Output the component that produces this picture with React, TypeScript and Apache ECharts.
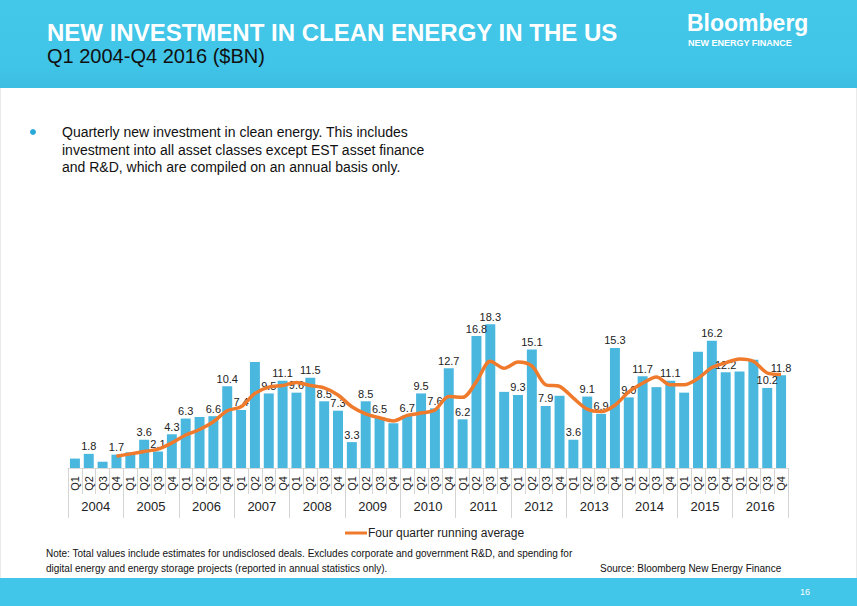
import React, { useEffect, useRef } from "react";
import * as echarts from "echarts";

const quarters: string[] = [];
const years = ["2004", "2005", "2006", "2007", "2008", "2009", "2010", "2011", "2012", "2013", "2014", "2015", "2016"];
const quarterNames = ["Q1", "Q2", "Q3", "Q4"];
years.forEach(() => quarterNames.forEach((q) => quarters.push(q)));

const investment = [
  1.2, 1.8, 0.8, 1.7,
  2.0, 3.6, 2.1, 4.3,
  6.3, 6.5, 6.6, 10.4,
  7.4, 13.5, 9.5, 11.1,
  9.6, 11.5, 8.5, 7.3,
  3.3, 8.5, 6.5, 5.7,
  6.7, 9.5, 7.6, 12.7,
  6.2, 16.8, 18.3, 9.7,
  9.3, 15.1, 7.9, 9.2,
  3.6, 9.1, 6.9, 15.3,
  9.0, 11.7, 10.3, 11.1,
  9.6, 14.8, 16.2, 12.2,
  12.3, 13.8, 10.2, 11.8,
];

const runningAverage = [
  null, null, null, 1.5,
  1.8, 2.1, 2.4, 3.2,
  4.2, 4.9, 5.9, 7.3,
  7.8, 9.5, 10.3, 10.5,
  10.9, 10.5, 10.2, 9.3,
  7.8, 6.9, 6.4, 6.0,
  6.7, 7.0, 7.4, 9.1,
  9.0, 11.0, 13.6, 12.7,
  13.5, 13.0, 10.6, 10.4,
  8.9, 7.5, 7.2, 8.0,
  9.7, 10.8, 11.6, 10.6,
  10.6, 11.4, 12.8, 13.4,
  13.9, 13.6, 12.1, 11.9,
];

const labelledBars = [
  1, 3, 5, 6, 7, 8, 10, 11, 12, 14, 15, 16, 17, 18, 19, 20, 21, 22, 24, 25, 26, 27,
  28, 29, 30, 32, 33, 34, 36, 37, 38, 39, 40, 41, 43, 46, 47, 50, 51,
];

const TITLE = "NEW INVESTMENT IN CLEAN ENERGY IN THE US";
const SUBTITLE = "Q1 2004-Q4 2016 ($BN)";
const BULLET_LINES = [
  "Quarterly new investment in clean energy. This includes",
  "investment into all asset classes except EST asset finance",
  "and R&D, which are compiled on an annual basis only.",
];
const NOTE_LINES = [
  "Note: Total values include estimates for undisclosed deals. Excludes corporate and government R&D, and spending for",
  "digital energy and energy storage projects (reported in annual statistics only).",
];
const SOURCE = "Source: Bloomberg New Energy Finance";
const LEGEND_NAME = "Four quarter running average";

const FONT = "'Liberation Sans', Arial, sans-serif";
const BAR_COLOR = "#4ab7df";
const LINE_COLOR = "#f07a2c";
const BANNER = "#41c5e8";

export default function App() {
  const ref = useRef<HTMLDivElement>(null);
  useEffect(() => {
    if (!ref.current) return;
    const chart = echarts.init(ref.current, null, { renderer: "svg" });
    const graphics: any[] = [
      { type: "rect", z: -10, shape: { x: 0, y: 0, width: 857, height: 606 }, style: { fill: "#ffffff", stroke: "#d4d4d4", lineWidth: 1 } },
      {
        type: "rect", z: -5, shape: { x: 0, y: 0, width: 857, height: 88 },
        style: {
          fill: new echarts.graphic.LinearGradient(0, 0, 0, 1, [
            { offset: 0, color: "#44c8ea" },
            { offset: 0.75, color: "#40c4e7" },
            { offset: 1, color: "#3bbde2" },
          ]),
        },
      },
      { type: "text", x: 47, y: 32, style: { text: TITLE, fill: "#ffffff", font: `bold 24px ${FONT}`, verticalAlign: "middle" } },
      { type: "text", x: 47, y: 56, style: { text: SUBTITLE, fill: "#111111", font: `20px ${FONT}`, verticalAlign: "middle" } },
      { type: "text", x: 687, y: 23, style: { text: "Bloomberg", fill: "#ffffff", font: `bold 23px ${FONT}`, verticalAlign: "middle" } },
      { type: "text", x: 688, y: 43, style: { text: "NEW ENERGY FINANCE", fill: "#ffffff", font: `bold 9px ${FONT}`, verticalAlign: "middle" } },
      { type: "circle", shape: { cx: 33, cy: 132, r: 3 }, style: { fill: "#2aa9d9" } },
      ...BULLET_LINES.map((t, i) => ({
        type: "text", x: 62, y: 132 + i * 17.5,
        style: { text: t, fill: "#111111", font: `14px ${FONT}`, verticalAlign: "middle" },
      })),
      ...NOTE_LINES.map((t, i) => ({
        type: "text", x: 46, y: 553 + i * 15,
        style: { text: t, fill: "#111111", font: `10px ${FONT}`, verticalAlign: "middle" },
      })),
      { type: "text", x: 600, y: 568, style: { text: SOURCE, fill: "#111111", font: `10px ${FONT}`, verticalAlign: "middle" } },
      { type: "rect", z: -5, shape: { x: 0, y: 578, width: 857, height: 28 }, style: { fill: BANNER } },
      { type: "text", x: 800, y: 592, style: { text: "16", fill: "#ffffff", font: `9px ${FONT}`, verticalAlign: "middle" } },
    ];

    chart.setOption({
      animation: false,
      textStyle: { fontFamily: FONT },
      graphic: graphics,
      grid: { left: 68, right: 69, top: 311, bottom: 138, containLabel: false },
      legend: {
        data: [{ name: LEGEND_NAME, icon: "rect" }],
        left: 340,
        top: 522,
        itemWidth: 22,
        itemHeight: 3,
        itemGap: 4,
        textStyle: { fontSize: 12, color: "#222222", fontFamily: FONT, padding: [0, 0, 0, -4] },
      },
      xAxis: [
        {
          type: "category",
          data: quarters,
          position: "bottom",
          axisLine: { show: true, lineStyle: { color: "#d9d9d9", width: 1 } },
          axisTick: { show: true, interval: 0, length: 26, lineStyle: { color: "#d4d4d4" } },
          axisLabel: { interval: 0, rotate: 90, fontSize: 11, color: "#222222", margin: 8, fontFamily: FONT },
        },
        {
          type: "category",
          data: years,
          position: "bottom",
          axisLine: { show: false },
          axisTick: { show: true, interval: 0, length: 50, lineStyle: { color: "#d4d4d4" } },
          axisLabel: { interval: 0, fontSize: 13, color: "#222222", margin: 32, fontFamily: FONT },
        },
      ],
      yAxis: { type: "value", min: 0, max: 20, show: false, splitLine: { show: false } },
      series: [
        {
          name: "Investment",
          type: "bar",
          xAxisIndex: 0,
          barCategoryGap: "28%",
          itemStyle: { color: BAR_COLOR },
          data: investment.map((v, i) => ({ value: v, label: { show: labelledBars.includes(i) } })),
          label: {
            position: "top",
            distance: 2,
            fontSize: 11,
            color: "#222222",
            fontFamily: FONT,
            formatter: (p: any) => Number(p.value).toFixed(1),
          },
        },
        {
          name: LEGEND_NAME,
          type: "line",
          xAxisIndex: 0,
          data: runningAverage,
          symbol: "none",
          smooth: 0.3,
          connectNulls: false,
          lineStyle: { color: LINE_COLOR, width: 3.5 },
          itemStyle: { color: LINE_COLOR },
          z: 5,
        },
      ],
    });
    return () => chart.dispose();
  }, []);
  return <div ref={ref} style={{ position: "absolute", left: 0, top: 0, width: 857, height: 606 }} />;
}
